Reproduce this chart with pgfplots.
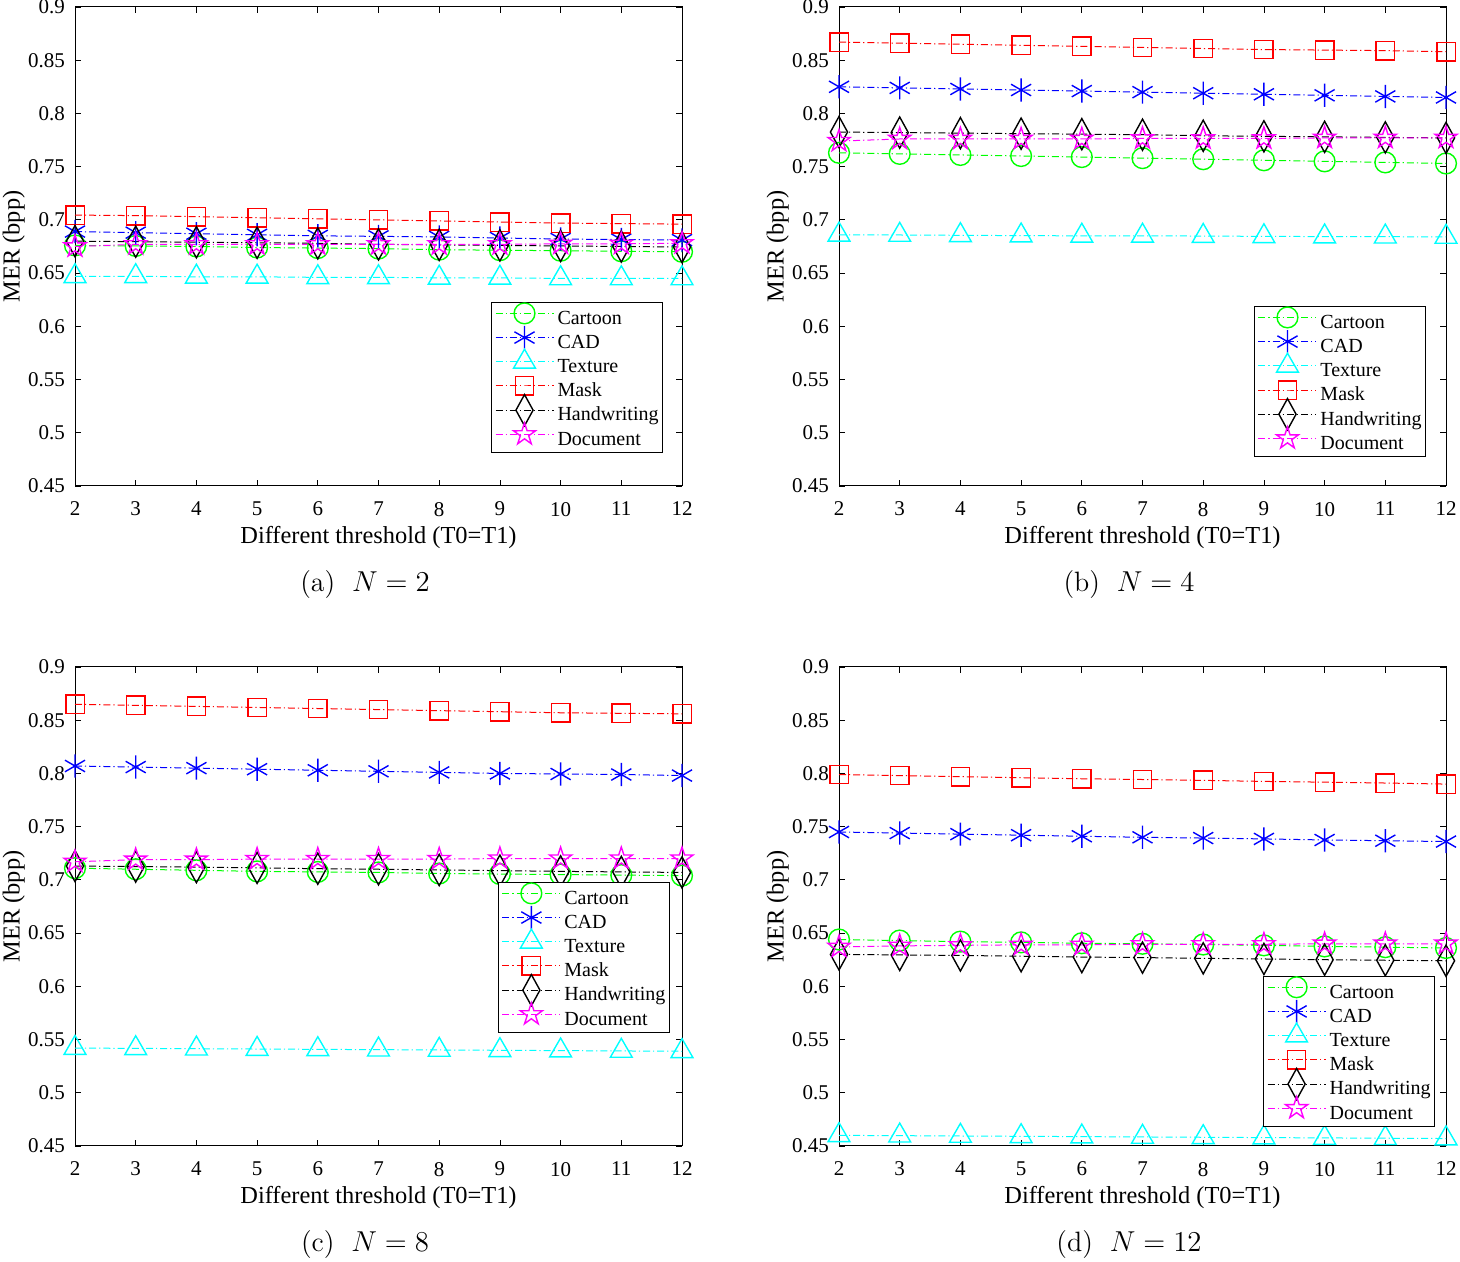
\documentclass[border=0pt]{standalone}
\usepackage{pgfplots}
\pgfplotsset{compat=1.18}
\usepackage{fontspec}
\setmainfont{Liberation Serif}

\definecolor{mgreen}{rgb}{0,1,0}
\definecolor{mblue}{rgb}{0,0,1}
\definecolor{mcyan}{rgb}{0,1,1}
\definecolor{mred}{rgb}{1,0,0}
\definecolor{mmag}{rgb}{1,0,1}

\pgfdeclareplotmark{pent}{%
  \pgfpathmoveto{\pgfpointpolar{90}{\pgfplotmarksize}}%
  \pgfpathlineto{\pgfpointpolar{126}{0.382\pgfplotmarksize}}%
  \pgfpathlineto{\pgfpointpolar{162}{\pgfplotmarksize}}%
  \pgfpathlineto{\pgfpointpolar{198}{0.382\pgfplotmarksize}}%
  \pgfpathlineto{\pgfpointpolar{234}{\pgfplotmarksize}}%
  \pgfpathlineto{\pgfpointpolar{270}{0.382\pgfplotmarksize}}%
  \pgfpathlineto{\pgfpointpolar{306}{\pgfplotmarksize}}%
  \pgfpathlineto{\pgfpointpolar{342}{0.382\pgfplotmarksize}}%
  \pgfpathlineto{\pgfpointpolar{18}{\pgfplotmarksize}}%
  \pgfpathlineto{\pgfpointpolar{54}{0.382\pgfplotmarksize}}%
  \pgfpathclose\pgfusepathqstroke}
\pgfdeclareplotmark{tdiam}{%
  \pgfpathmoveto{\pgfqpoint{0pt}{\pgfplotmarksize}}%
  \pgfpathlineto{\pgfqpoint{0.55\pgfplotmarksize}{0pt}}%
  \pgfpathlineto{\pgfqpoint{0pt}{-\pgfplotmarksize}}%
  \pgfpathlineto{\pgfqpoint{-0.55\pgfplotmarksize}{0pt}}%
  \pgfpathclose\pgfusepathqstroke}

\pgfplotsset{
  dd/.style={dash pattern=on 3.5pt off 1.5pt on 0.6pt off 1.5pt},
  ser/.style={color=#1, dd, line width=0.5pt, mark options={solid, line width=0.7pt}},
  scart/.style={ser=mgreen, mark=o, mark size=5.2pt},
  scad/.style={ser=mblue, mark=asterisk, mark size=5.8pt},
  stex/.style={ser=mcyan, mark=triangle, mark size=6.3pt},
  smask/.style={ser=mred, mark=square, mark size=4.6pt},
  shand/.style={ser=black, mark=tdiam, mark size=7.8pt},
  sdoc/.style={ser=mmag, mark=pent, mark size=5.8pt},
  panel/.style={
    width=303.5pt, height=239.5pt, scale only axis,
    xmin=2, xmax=12, ymin=0.45, ymax=0.9,
    xtick={2,3,4,5,6,7,8,9,10,11,12},
    ytick={0.45,0.5,0.55,0.6,0.65,0.7,0.75,0.8,0.85,0.9},
    tick align=inside, major tick length=3pt,
    axis line style={line width=0.5pt},
    every tick/.style={black, line width=0.4pt},
    /pgf/number format/assume math mode=true,
    tick label style={font=\fontsize{10.5}{12}\selectfont},
    xticklabel style={yshift=-4.5pt},
    yticklabel style={xshift=-1.5pt},
    label style={font=\fontsize{12.2}{14}\selectfont},
    xlabel={Different threshold (T0=T1)},
    ylabel={MER (bpp)},
    xlabel style={at={(axis description cs:0.5,-0.107)}, anchor=center},
    ylabel style={at={(axis description cs:-0.101,0.5)}, anchor=center},
    clip=false,
    legend cell align=left,
    legend image code/.code={\path[draw=none,fill=none] (0pt,-3.2pt) rectangle (29pt,8pt);
      \draw[overlay, mark repeat=2, mark phase=2, ##1] plot coordinates {(0pt,3pt)(14.5pt,3pt)(29pt,3pt)};},
    legend style={draw=black, line width=0.4pt, font=\fontsize{10}{12}\selectfont,
      inner xsep=2pt, inner ysep=0.5pt, row sep=-1.5pt, column sep=2pt,
      nodes={inner sep=0pt, text height=8pt, text depth=3.2pt}},
  },
}

\begin{document}
\begin{tikzpicture}
\useasboundingbox (0,0) rectangle (730pt,631pt);

% (a) N=2
\begin{axis}[panel, at={(37.5pt,388pt)}, anchor=south west,
  legend style={at={(0.9687,0.0689)}, anchor=south east}]
\addplot[scart] coordinates {(2,0.676)(3,0.6755)(4,0.675)(5,0.674)(6,0.6735)(7,0.673)(8,0.672)(9,0.6715)(10,0.671)(11,0.6705)(12,0.670)};
\addplot[scad] coordinates {(2,0.689)(3,0.688)(4,0.687)(5,0.686)(6,0.685)(7,0.6845)(8,0.684)(9,0.683)(10,0.682)(11,0.6815)(12,0.681)};
\addplot[stex] coordinates {(2,0.647)(3,0.647)(4,0.6465)(5,0.6465)(6,0.646)(7,0.646)(8,0.6455)(9,0.6455)(10,0.645)(11,0.645)(12,0.645)};
\addplot[smask] coordinates {(2,0.7045)(3,0.704)(4,0.703)(5,0.702)(6,0.701)(7,0.700)(8,0.699)(9,0.698)(10,0.697)(11,0.6965)(12,0.696)};
\addplot[shand] coordinates {(2,0.680)(3,0.6795)(4,0.679)(5,0.6785)(6,0.678)(7,0.677)(8,0.6765)(9,0.676)(10,0.6755)(11,0.675)(12,0.6745)};
\addplot[sdoc] coordinates {(2,0.675)(3,0.677)(4,0.677)(5,0.677)(6,0.677)(7,0.677)(8,0.677)(9,0.677)(10,0.6775)(11,0.6775)(12,0.678)};
\legend{Cartoon,CAD,Texture,Mask,Handwriting,Document}
\end{axis}

% (b) N=4
\begin{axis}[panel, at={(419.5pt,388pt)}, anchor=south west,
  legend style={at={(0.967,0.0605)}, anchor=south east}]
\addplot[scart] coordinates {(2,0.763)(3,0.762)(4,0.761)(5,0.760)(6,0.759)(7,0.758)(8,0.757)(9,0.756)(10,0.755)(11,0.754)(12,0.753)};
\addplot[scad] coordinates {(2,0.825)(3,0.824)(4,0.823)(5,0.822)(6,0.821)(7,0.820)(8,0.819)(9,0.818)(10,0.817)(11,0.816)(12,0.815)};
\addplot[stex] coordinates {(2,0.686)(3,0.6858)(4,0.6855)(5,0.6852)(6,0.685)(7,0.685)(8,0.6848)(9,0.6845)(10,0.6843)(11,0.6842)(12,0.684)};
\addplot[smask] coordinates {(2,0.867)(3,0.866)(4,0.865)(5,0.864)(6,0.863)(7,0.862)(8,0.861)(9,0.860)(10,0.8595)(11,0.859)(12,0.858)};
\addplot[shand] coordinates {(2,0.7825)(3,0.782)(4,0.7815)(5,0.781)(6,0.7805)(7,0.780)(8,0.779)(9,0.7785)(10,0.778)(11,0.7775)(12,0.777)};
\addplot[sdoc] coordinates {(2,0.774)(3,0.776)(4,0.776)(5,0.776)(6,0.776)(7,0.7765)(8,0.7765)(9,0.7765)(10,0.777)(11,0.777)(12,0.777)};
\legend{Cartoon,CAD,Texture,Mask,Handwriting,Document}
\end{axis}

% (c) N=8
\begin{axis}[panel, at={(37.5pt,58pt)}, anchor=south west,
  legend style={at={(0.980,0.236)}, anchor=south east}]
\addplot[scart] coordinates {(2,0.711)(3,0.710)(4,0.709)(5,0.708)(6,0.7075)(7,0.707)(8,0.706)(9,0.7055)(10,0.705)(11,0.7045)(12,0.704)};
\addplot[scad] coordinates {(2,0.807)(3,0.806)(4,0.805)(5,0.804)(6,0.803)(7,0.802)(8,0.801)(9,0.800)(10,0.7995)(11,0.799)(12,0.798)};
\addplot[stex] coordinates {(2,0.542)(3,0.5417)(4,0.5414)(5,0.5411)(6,0.5408)(7,0.5405)(8,0.5402)(9,0.5399)(10,0.5396)(11,0.5393)(12,0.539)};
\addplot[smask] coordinates {(2,0.865)(3,0.864)(4,0.863)(5,0.862)(6,0.861)(7,0.860)(8,0.859)(9,0.858)(10,0.857)(11,0.8565)(12,0.856)};
\addplot[shand] coordinates {(2,0.713)(3,0.7125)(4,0.712)(5,0.7113)(6,0.7105)(7,0.710)(8,0.7093)(9,0.7087)(10,0.708)(11,0.7075)(12,0.707)};
\addplot[sdoc] coordinates {(2,0.717)(3,0.719)(4,0.719)(5,0.7195)(6,0.7195)(7,0.7195)(8,0.7195)(9,0.720)(10,0.720)(11,0.720)(12,0.720)};
\legend{Cartoon,CAD,Texture,Mask,Handwriting,Document}
\end{axis}

% (d) N=12
\begin{axis}[panel, at={(419.5pt,58pt)}, anchor=south west,
  legend style={at={(0.982,0.040)}, anchor=south east}]
\addplot[scart] coordinates {(2,0.644)(3,0.643)(4,0.642)(5,0.6413)(6,0.6405)(7,0.640)(8,0.6393)(9,0.6385)(10,0.6375)(11,0.6368)(12,0.636)};
\addplot[scad] coordinates {(2,0.745)(3,0.744)(4,0.743)(5,0.742)(6,0.741)(7,0.740)(8,0.7393)(9,0.7385)(10,0.7375)(11,0.7368)(12,0.736)};
\addplot[stex] coordinates {(2,0.460)(3,0.4597)(4,0.4594)(5,0.4591)(6,0.4588)(7,0.4585)(8,0.4582)(9,0.4579)(10,0.4576)(11,0.4573)(12,0.457)};
\addplot[smask] coordinates {(2,0.799)(3,0.798)(4,0.797)(5,0.796)(6,0.795)(7,0.7943)(8,0.7935)(9,0.7925)(10,0.7918)(11,0.791)(12,0.790)};
\addplot[shand] coordinates {(2,0.630)(3,0.6295)(4,0.629)(5,0.6283)(6,0.6275)(7,0.627)(8,0.6263)(9,0.6257)(10,0.625)(11,0.6245)(12,0.624)};
\addplot[sdoc] coordinates {(2,0.637)(3,0.638)(4,0.6385)(5,0.639)(6,0.639)(7,0.6395)(8,0.6395)(9,0.6395)(10,0.640)(11,0.640)(12,0.640)};
\legend{Cartoon,CAD,Texture,Mask,Handwriting,Document}
\end{axis}

\node at (182.5pt,338.5pt) {\fontsize{14}{16}\fontfamily{lmr}\selectfont (a)\hspace{0.6em}$N=2$};
\node at (564.5pt,338.5pt) {\fontsize{14}{16}\fontfamily{lmr}\selectfont (b)\hspace{0.6em}$N=4$};
\node at (182.5pt,8.5pt) {\fontsize{14}{16}\fontfamily{lmr}\selectfont (c)\hspace{0.6em}$N=8$};
\node at (564.5pt,8.5pt) {\fontsize{14}{16}\fontfamily{lmr}\selectfont (d)\hspace{0.6em}$N=12$};
\end{tikzpicture}
\end{document}
